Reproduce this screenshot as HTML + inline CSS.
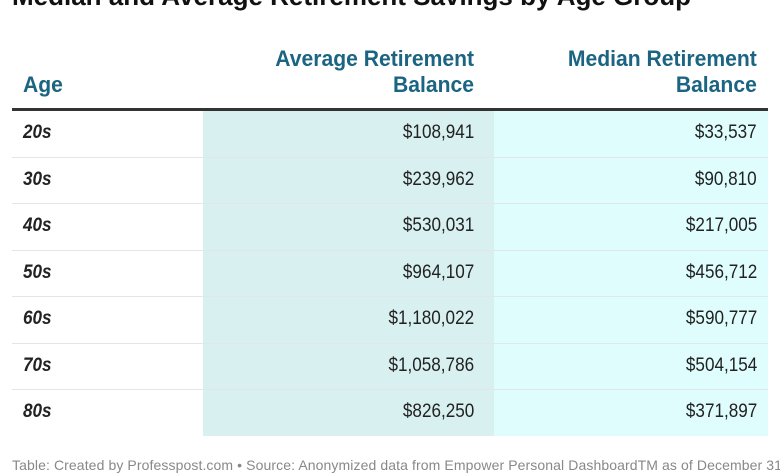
<!DOCTYPE html>
<html><head><style>
body{margin:0;width:780px;height:470px;overflow:hidden;background:#fff;font-family:"Liberation Sans",sans-serif;position:relative}
.title{position:absolute;left:12px;top:-19px;font-size:26px;font-weight:bold;color:#111;white-space:nowrap;transform:scaleX(1.0);transform-origin:left}
.h{position:absolute;color:#1b6482;font-weight:bold;font-size:22px;line-height:26px;transform:scaleX(0.96)}
.line{position:absolute;left:12px;width:756px;top:108px;height:3px;background:#333}
.c1{position:absolute;left:203px;width:291px;top:111px;height:325px;background:#d8f0f0}
.c2{position:absolute;left:494px;width:274px;top:111px;height:325px;background:#dffdfd}
.row{position:absolute;left:12px;width:756px;height:46.5px;border-bottom:1px solid #e2e6e6;box-sizing:border-box;font-size:19px;color:#222}
.row span{position:absolute;top:11px;transform:scaleX(0.9)}
.a{left:11px;font-weight:bold;font-style:italic;transform-origin:left}
.b{right:294px;transform-origin:right}
.m{right:11px;transform-origin:right}
.foot{position:absolute;left:12px;top:457px;font-size:14px;color:#888;white-space:nowrap;letter-spacing:0.1px}
</style></head><body>
<div class="title">Median and Average Retirement Savings by Age Group</div>
<div class="h" style="left:23px;top:72px;transform-origin:left">Age</div>
<div class="h" style="right:306px;top:46px;text-align:right;transform-origin:right">Average Retirement<br>Balance</div>
<div class="h" style="right:23px;top:46px;text-align:right;transform-origin:right">Median Retirement<br>Balance</div>
<div class="line"></div>
<div class="c1"></div><div class="c2"></div>
<div class="row" style="top:111px"><span class="a">20s</span><span class="b">$108,941</span><span class="m">$33,537</span></div>
<div class="row" style="top:157.5px"><span class="a">30s</span><span class="b">$239,962</span><span class="m">$90,810</span></div>
<div class="row" style="top:204px"><span class="a">40s</span><span class="b">$530,031</span><span class="m">$217,005</span></div>
<div class="row" style="top:250.5px"><span class="a">50s</span><span class="b">$964,107</span><span class="m">$456,712</span></div>
<div class="row" style="top:297px"><span class="a">60s</span><span class="b">$1,180,022</span><span class="m">$590,777</span></div>
<div class="row" style="top:343.5px"><span class="a">70s</span><span class="b">$1,058,786</span><span class="m">$504,154</span></div>
<div class="row" style="top:390px;border-bottom:none"><span class="a">80s</span><span class="b">$826,250</span><span class="m">$371,897</span></div>
<div class="foot">Table: Created by Professpost.com • Source: Anonymized data from Empower Personal DashboardTM as of December 31</div>
</body></html>
